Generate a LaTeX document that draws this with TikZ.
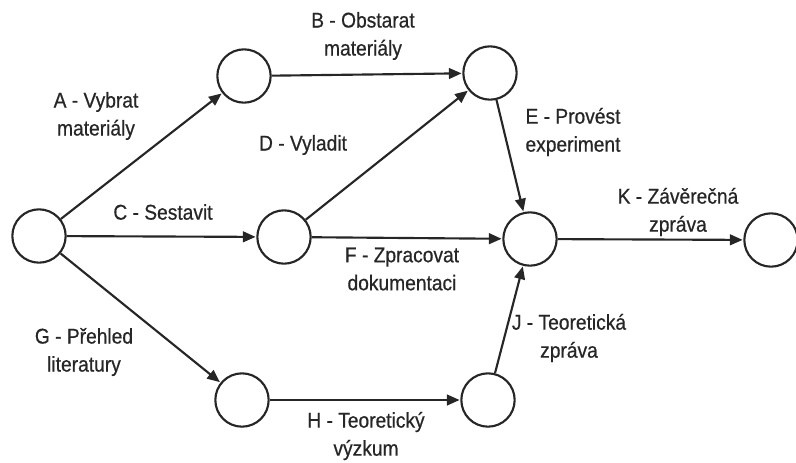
\documentclass[tikz,border=0pt]{standalone}
\usepackage{fontspec}
\setmainfont{Liberation Sans}[FakeStretch=0.9,FakeBold=0.6]
\usetikzlibrary{arrows.meta}
\definecolor{ink}{gray}{0.15}
\begin{document}
\begin{tikzpicture}[x=0.75pt,y=-0.75pt,
  event/.style={circle,draw=ink,line width=1.6pt,minimum size=40pt,inner sep=0pt,fill=white},
  activity/.style={draw=ink,line width=1.6pt,-{Triangle[length=9.5pt,width=8pt]},shorten >=0.5pt},
  lbl/.style={text=ink,align=center,inner sep=0pt,font=\fontsize{16}{21}\selectfont}]
\useasboundingbox (0,0) rectangle (796,462);
% events
\node[event] (n1) at (39,236) {};
\node[event] (n2) at (244,76) {};
\node[event] (n3) at (490,73) {};
\node[event] (n4) at (284,237) {};
\node[event] (n5) at (530,239) {};
\node[event] (n6) at (771,240) {};
\node[event] (n7) at (242,400) {};
\node[event] (n8) at (488,400) {};
% activities
\draw[activity] (n1) -- (n2);
\draw[activity] (n2) -- (n3);
\draw[activity] (n1) -- (n4);
\draw[activity] (n4) -- (n3);
\draw[activity] (n3) -- (n5);
\draw[activity] (n4) -- (n5);
\draw[activity] (n1) -- (n7);
\draw[activity] (n7) -- (n8);
\draw[activity] (n8) -- (n5);
\draw[activity] (n5) -- (n6);
% activity labels
\node[lbl] (lA) at (96,116) {A - Vybrat\\materiály};
\node[lbl] (lB) at (363,36) {B - Obstarat\\materiály};
\node[lbl] (lC) at (163,212) {C - Sestavit};
\node[lbl] (lD) at (303,145) {D - Vyladit};
\node[lbl] (lE) at (573,132) {E - Provést\\experiment};
\node[lbl] (lF) at (402,269) {F - Zpracovat\\dokumentaci};
\node[lbl] (lG) at (84,352) {G - Přehled\\literatury};
\node[lbl] (lH) at (366,436) {H - Teoretický\\výzkum};
\node[lbl] (lJ) at (569,338) {J - Teoretická\\zpráva};
\node[lbl] (lK) at (678,212) {K - Závěrečná\\zpráva};
\end{tikzpicture}
\end{document}
